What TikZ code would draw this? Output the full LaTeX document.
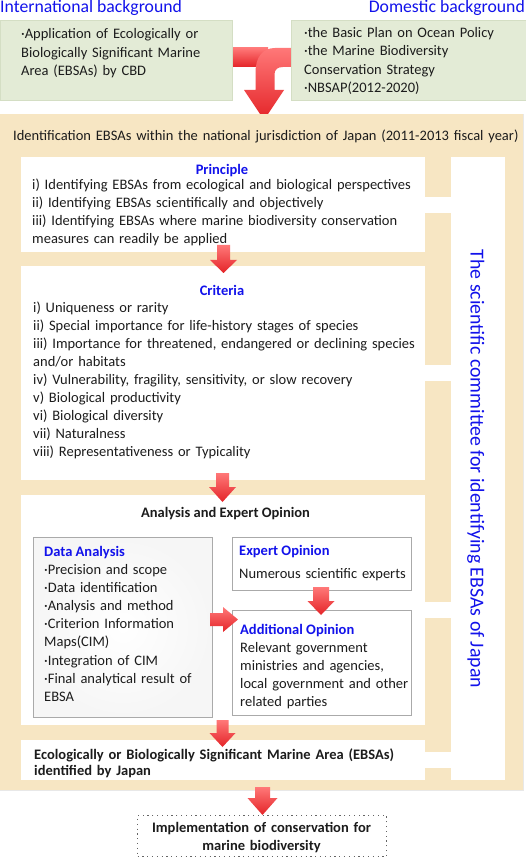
\documentclass[tikz,border=0pt]{standalone}
\usepackage{fontspec}
\setmainfont{Carlito}
\definecolor{beige}{RGB}{247,230,195}
\definecolor{greenbox}{RGB}{227,235,214}
\definecolor{greenline}{RGB}{212,222,196}
\definecolor{hblue}{RGB}{18,18,235}
\definecolor{redtop}{RGB}{255,120,120}
\definecolor{redbot}{RGB}{228,36,40}
\definecolor{txt}{RGB}{28,28,28}
\newcommand\redDown[6]{% cx, shaft top, head base, tip, shaft half, head half
  \shade[top color=redtop,bottom color=redbot] (#1-#5,#2) -- (#1+#5,#2) -- (#1+#5,#3) -- (#1+#6,#3) -- (#1,#4) -- (#1-#6,#3) -- (#1-#5,#3) -- cycle;}
\begin{document}
\begin{tikzpicture}[x=1pt,y=-1pt,
  body/.style={font=\fontsize{14.5}{18}\selectfont, text=txt, inner sep=0pt, align=left, text width=400pt, anchor=base west},
  bhead/.style={font=\fontsize{14.5}{18}\selectfont\bfseries, text=hblue, inner sep=0pt},
  khead/.style={font=\fontsize{14.5}{18}\selectfont\bfseries, text=txt, inner sep=0pt},
  wbox/.style={fill=white, draw=none, inner sep=0pt, anchor=north west},
  gbox/.style={fill=greenbox, draw=greenline, line width=0.8pt, inner sep=0pt, anchor=north west},
  sbox/.style={draw={rgb,255:red,170;green,170;blue,170}, line width=0.8pt, inner sep=0pt, anchor=north west},
]
\useasboundingbox (0,0) rectangle (526,858);
\fill[white] (0,0) rectangle (526,858);

% headers
\node[font=\fontsize{17.7}{20}\selectfont, text=hblue, inner sep=0pt, anchor=base west] (intl) at (0,13) {International background};
\node[font=\fontsize{17.7}{20}\selectfont, text=hblue, inner sep=0pt, anchor=base east] (dom) at (525,13) {Domestic background};

% T arrow
\shade[top color=redtop,bottom color=redbot] (231,48) rectangle (268,67);
\shade[top color=redtop,bottom color=redbot] (292,48) -- (275,48) .. controls (263,48) and (255.5,57) .. (255.5,72) -- (255.5,90) -- (244,90) -- (264,120) -- (284,90) -- (274.5,90) -- (274.5,74) .. controls (274.5,69.5) and (278,67) .. (283,67) -- (292,67) -- cycle;

% green boxes
\node[gbox, minimum width=232pt, minimum height=80pt] (intlbox) at (0,20) {};
\node[gbox, minimum width=235pt, minimum height=80pt] (dombox) at (291,20) {};
\node[body, text width=220pt] (intltxt) at (21,39) {\baselineskip=18.3pt ·Application of Ecologically or\\Biologically Significant Marine\\Area (EBSAs) by CBD};
\node[body, text width=220pt] (domtxt) at (304,37.5) {\baselineskip=18.3pt ·the Basic Plan on Ocean Policy\\·the Marine Biodiversity\\Conservation Strategy\\·NBSAP(2012-2020)};

% big beige area
\fill[beige] (0,114) rectangle (523,790);
\draw[gray!18, line width=0.8pt] (0,790.4) -- (523.4,790.4) -- (523.4,114);
\node[body, text width=512pt] (title) at (13,141) {Identification EBSAs within the national jurisdiction of Japan (2011-2013 fiscal year)};

% white boxes
\node[wbox, minimum width=404pt, minimum height=95pt] (principle) at (21,157) {};
\node[wbox, minimum width=404pt, minimum height=214pt] (criteria) at (21,266) {};
\node[wbox, minimum width=404pt, minimum height=230pt] (analysis) at (21,495) {};
\node[wbox, minimum width=404pt, minimum height=40pt] (ebsa) at (21,740) {};
\node[wbox, minimum width=54pt, minimum height=623pt] (comm) at (451,157) {};
% links to committee column
\fill[white] (424,197) rectangle (452,213);
\fill[white] (424,365) rectangle (452,381);
\fill[white] (424,602) rectangle (452,618);
\fill[white] (424,752) rectangle (452,768);

\node[font=\fontsize{19.8}{22}\selectfont, text=hblue, inner sep=0pt, rotate=-90, anchor=base] (commtxt) at (470.5,469) {The scientific committee for identifying EBSAs of Japan};

% principle
\node[bhead, anchor=base] (prinhead) at (222,174.5) {Principle};
\node[body] (printxt) at (32,189.5) {\baselineskip=17.8pt i) Identifying EBSAs from ecological and biological perspectives\\ii) Identifying EBSAs scientifically and objectively\\iii) Identifying EBSAs where marine biodiversity conservation\\measures can readily be applied};

% criteria
\node[bhead, anchor=base] (crithead) at (222,295) {Criteria};
\node[body] (crittxt) at (33,312.5) {\baselineskip=17.96pt i) Uniqueness or rarity\\ii) Special importance for life-history stages of species\\iii) Importance for threatened, endangered or declining species\\and/or habitats\\iv) Vulnerability, fragility, sensitivity, or slow recovery\\v) Biological productivity\\vi) Biological diversity\\vii) Naturalness\\viii) Representativeness or Typicality};

% analysis
\node[khead, anchor=base] (anahead) at (225.5,517.5) {Analysis and Expert Opinion};
\node[sbox, minimum width=179pt, minimum height=180pt, inner color=white, outer color={rgb,255:red,246;green,246;blue,246}] (data) at (33,537) {};
\node[sbox, fill=white, minimum width=179pt, minimum height=53pt] (expert) at (232,537) {};
\node[sbox, fill=white, minimum width=179pt, minimum height=105pt] (addop) at (232,610) {};

\node[bhead, anchor=base west] (datahead) at (44,556) {Data Analysis};
\node[body, text width=165pt] (datatxt) at (44,574.5) {\baselineskip=18.1pt ·Precision and scope\\·Data identification\\·Analysis and method\\·Criterion Information\\Maps(CIM)\\·Integration of CIM\\·Final analytical result of\\EBSA};
\node[bhead, anchor=base west] (exphead) at (239,555) {Expert Opinion};
\node[body, text width=170pt] (exptxt) at (239,578) {Numerous scientific experts};
\node[bhead, anchor=base west] (addhead) at (240,634.5) {Additional Opinion};
\node[body, text width=170pt] (addtxt) at (240,652.5) {Relevant government\\ministries and agencies,\\local government and other\\related parties};

% ebsa
\node[body, font=\fontsize{14.5}{16}\selectfont\bfseries] (ebsatxt) at (34,759.5) {Ecologically or Biologically Significant Marine Area (EBSAs)\\identified by Japan};

% implementation
\node[draw={rgb,255:red,100;green,100;blue,100}, line width=1.1pt, dash pattern=on 1.2pt off 3.6pt, fill=white, inner sep=0pt, minimum width=249pt, minimum height=41pt, anchor=north west] (impl) at (137,815) {};
\node[font=\fontsize{14.5}{18}\selectfont\bfseries, text=txt, inner sep=0pt, align=center, text width=250pt, anchor=base] (impltxt) at (261.5,832) {Implementation of conservation for\\marine biodiversity};

% red block arrows
\redDown{223.5}{245}{260}{273}{6.5}{13.5}
\redDown{222.5}{473}{487}{502}{6.5}{13.5}
\redDown{222.5}{720}{733}{747}{6}{13}
\redDown{321}{587}{601}{615}{8}{13.5}
\redDown{262.5}{787}{798}{815}{7.5}{15}
\shade[top color=redtop,bottom color=redbot] (210,613) -- (223,613) -- (223,607) -- (238,619.5) -- (223,632) -- (223,626) -- (210,626) -- cycle;
\end{tikzpicture}
\end{document}
